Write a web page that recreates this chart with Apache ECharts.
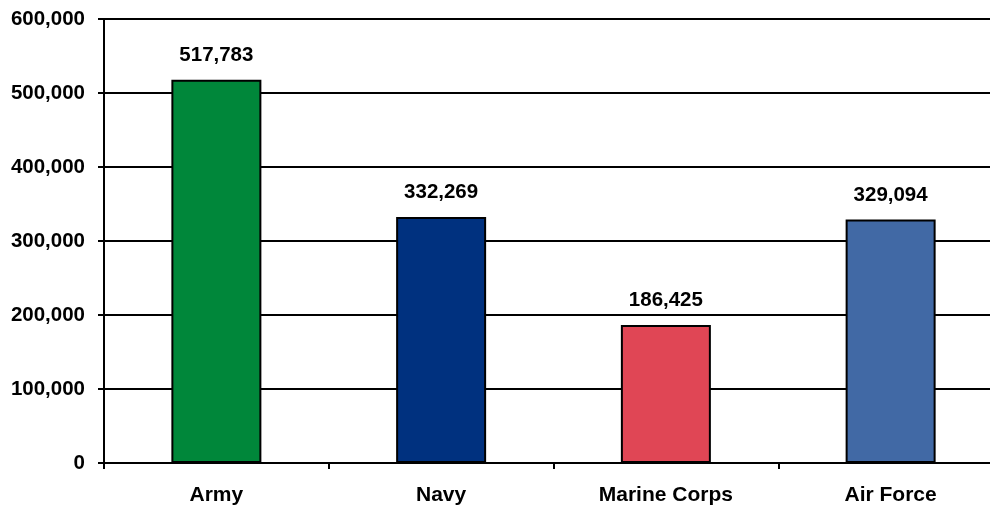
<!DOCTYPE html>
<html>
<head>
<meta charset="utf-8">
<script src="https://cdn.jsdelivr.net/npm/echarts@6/dist/echarts.min.js"></script>
<style>html,body{margin:0;padding:0;background:#fff;}#c{width:990px;height:508px;}</style>
</head>
<body>
<div id="c"></div>
<script>
const categories = ['Army', 'Navy', 'Marine Corps', 'Air Force'];
const values = [517783, 332269, 186425, 329094];
const barColors = ['#00873A', '#00317F', '#E04655', '#4169A5'];
const yTicks = [0, 100000, 200000, 300000, 400000, 500000, 600000];

const chart = echarts.init(document.getElementById('c'));
const fmt = v => v.toLocaleString('en-US');
const FONT = 'Liberation Sans, Arial, sans-serif';
chart.setOption({
  animation: false,
  backgroundColor: '#fff',
  grid: { left: 104, width: 899, top: 19, height: 444, containLabel: false, outerBoundsMode: 'none' },
  xAxis: {
    type: 'category',
    data: categories,
    axisLine: { lineStyle: { color: '#000', width: 2 } },
    axisTick: { show: true, length: 6, lineStyle: { color: '#000', width: 2 } },
    axisLabel: { color: '#000', fontFamily: FONT, fontWeight: 'bold', fontSize: 21, margin: 22 }
  },
  yAxis: {
    type: 'value',
    min: yTicks[0], max: yTicks[yTicks.length - 1], interval: 100000,
    axisLine: { show: true, lineStyle: { color: '#000', width: 2 } },
    axisTick: { show: true, length: 6, lineStyle: { color: '#000', width: 2 } },
    splitLine: { show: true, lineStyle: { color: '#000', width: 2 } },
    axisLabel: { color: '#000', fontFamily: FONT, fontWeight: 'bold', fontSize: 20.5, margin: 19, formatter: v => fmt(v) }
  },
  series: [{
    type: 'bar',
    barWidth: 90,
    data: values.map((v, i) => ({ value: v, itemStyle: { color: barColors[i] } })),
    itemStyle: { borderColor: '#000', borderWidth: 2 },
    label: {
      show: true, position: 'top', distance: 14,
      color: '#000', fontFamily: FONT, fontWeight: 'bold', fontSize: 20.5,
      formatter: p => fmt(p.value)
    }
  }]
});
</script>
</body>
</html>
